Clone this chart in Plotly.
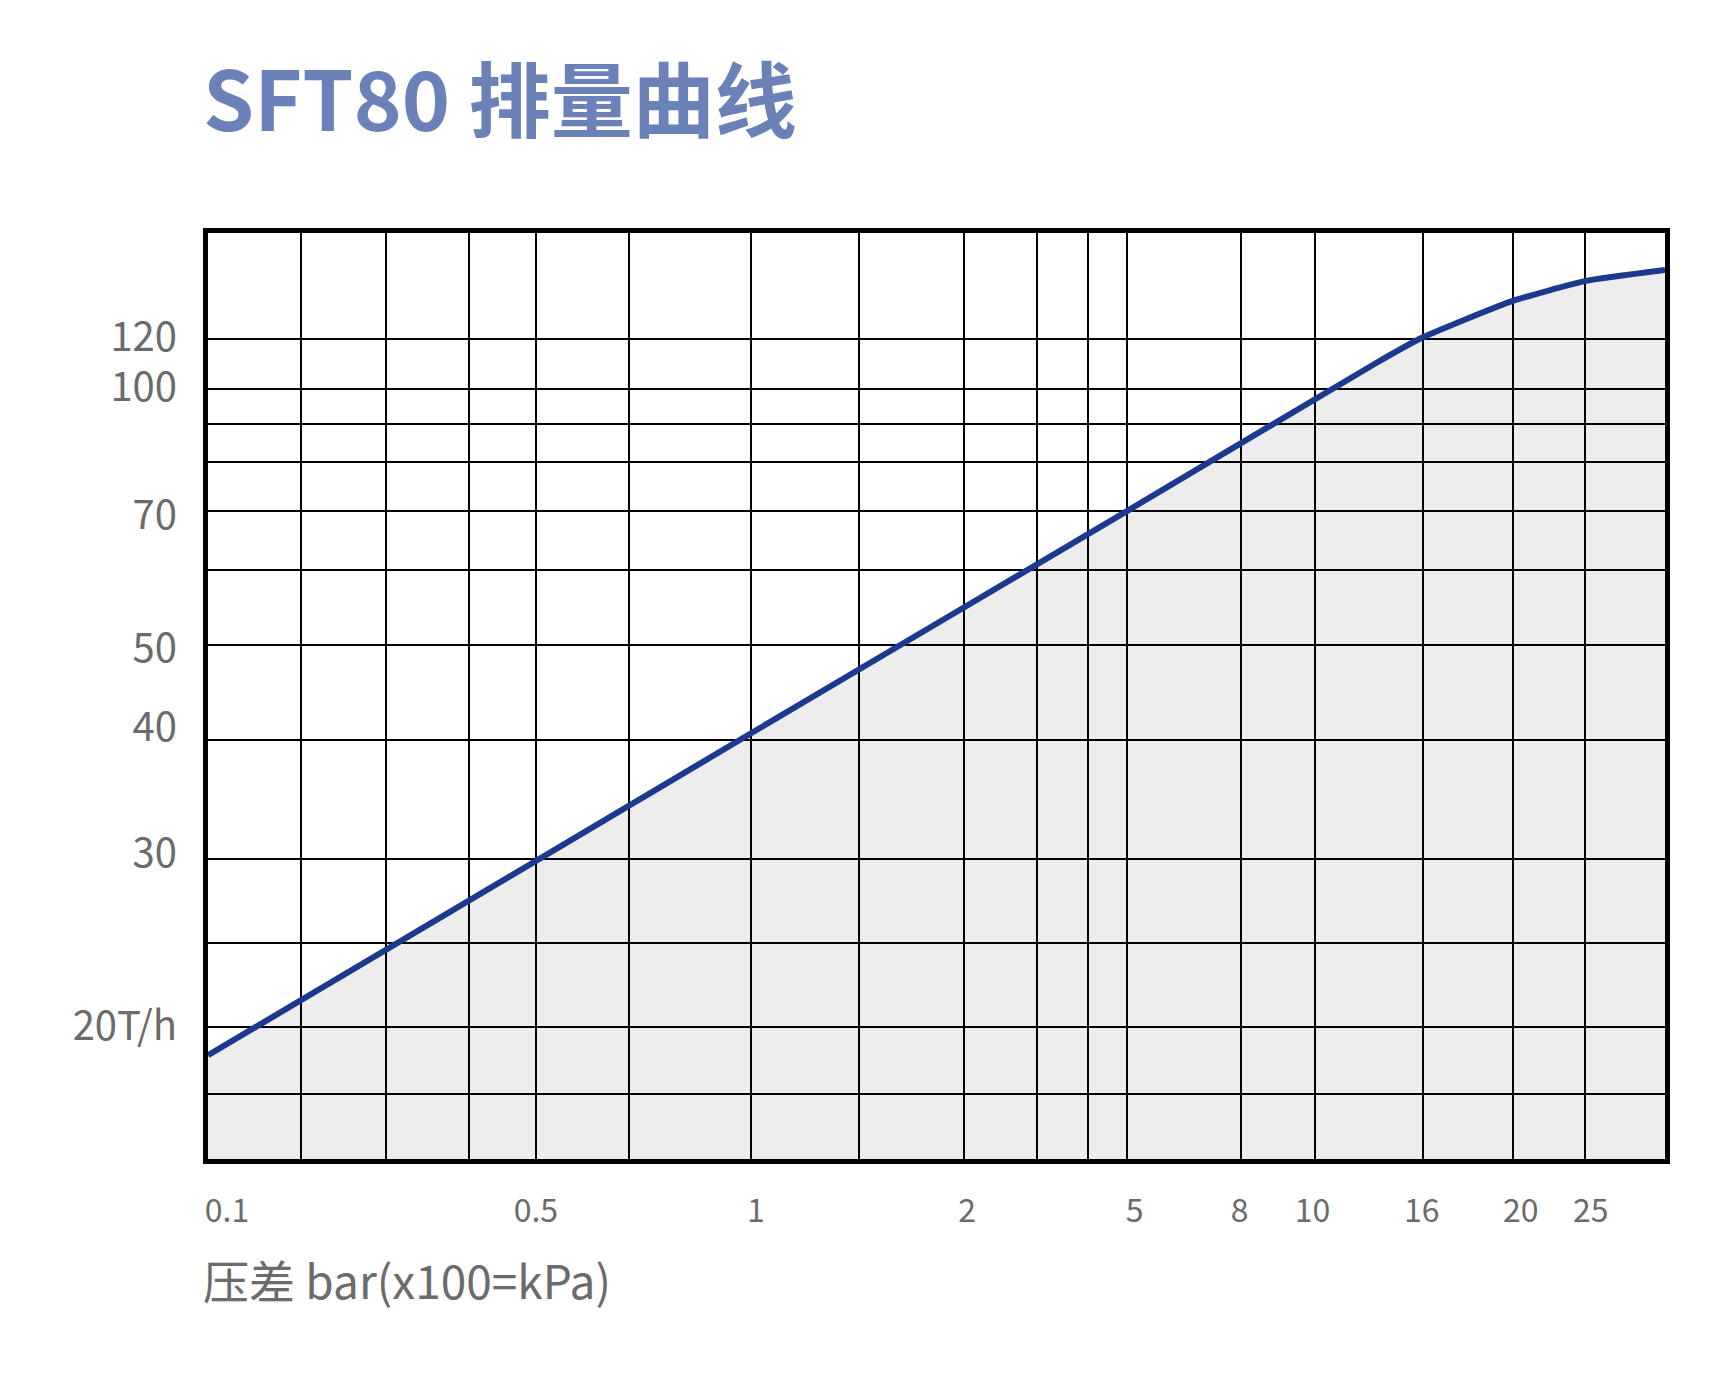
import plotly.graph_objects as go

# the chart uses an irregular (hand drawn) pressure scale, so positions are
# kept on a 0-100 "chart unit" axis and labelled with the printed values
x_grid = [6.4, 12.2, 17.9, 22.5, 28.9, 37.3, 44.7, 51.9, 56.9, 60.4, 63.1, 70.9, 76.0, 83.4, 89.6, 94.5]
y_grid = [7.0, 14.3, 23.3, 32.4, 45.3, 55.5, 63.6, 70.0, 75.3, 79.4, 83.1, 88.6]

x_label_pos = [1.3, 22.5, 37.6, 52.1, 63.6, 70.8, 75.8, 83.3, 90.1, 94.9, 100.4]
x_labels = ['0.1', '0.5', '1', '2', '5', '8', '10', '16', '20', '25', '32']
y_label_pos = [14.4, 33.0, 46.6, 55.2, 69.6, 83.4, 88.8, 100.6]
y_labels = ['20T/h', '30', '40', '50', '70', '100', '120', '160']

curve_x = [0.0, 37.3, 63.1, 80.0, 83.2, 86.5, 89.6, 94.5, 100.0]
curve_y = [11.2, 46.0, 70.0, 85.8, 88.6, 90.8, 92.7, 94.8, 96.0]

fig = go.Figure()
fig.add_trace(go.Scatter(
    x=curve_x, y=curve_y, mode='lines',
    line=dict(color='#1b3a8f', width=6, shape='spline', smoothing=0.5),
    fill='tozeroy', fillcolor='rgba(0,0,0,0.07)',
    hoverinfo='skip', showlegend=False))
# invisible trace to activate the label axes
fig.add_trace(go.Scatter(x=[0], y=[0], xaxis='x2', yaxis='y2',
                         mode='markers', marker=dict(opacity=0),
                         showlegend=False, hoverinfo='skip'))

font = 'Noto Sans CJK SC'
fig.update_layout(
    width=1735, height=1376,
    paper_bgcolor='white', plot_bgcolor='white',
    margin=dict(l=200, r=78, t=225, b=225),
    xaxis=dict(range=[0, 100], tickvals=x_grid, showticklabels=False,
               showgrid=True, gridcolor='black', gridwidth=2, zeroline=False,
               showline=True, linecolor='black', linewidth=5, mirror=True, ticks=''),
    yaxis=dict(range=[0, 100], tickvals=y_grid, showticklabels=False,
               showgrid=True, gridcolor='black', gridwidth=2, zeroline=False,
               showline=True, linecolor='black', linewidth=5, mirror=True, ticks=''),
    xaxis2=dict(range=[0, 100], overlaying='x', side='bottom', showgrid=False,
                zeroline=False, tickvals=x_label_pos, ticktext=x_labels, ticks='',
                ticklabelstandoff=30,
                tickfont=dict(family=font, size=32, color='#6b6b6b')),
    yaxis2=dict(range=[0, 100], overlaying='y', side='left', showgrid=False,
                zeroline=False, tickvals=y_label_pos, ticktext=y_labels, ticks='',
                ticklabelstandoff=30,
                tickfont=dict(family=font, size=40, color='#6b6b6b')),
    annotations=[
        dict(text='<b>SFT80 排量曲线</b>', xref='paper', yref='paper',
             x=-0.005, y=1.148, xanchor='left', yanchor='middle', showarrow=False,
             font=dict(family=font, size=82, color='#6a82b8')),
        dict(text='压差 bar(x100=kPa)', xref='paper', yref='paper',
             x=-0.005, y=-0.13, xanchor='left', yanchor='middle', showarrow=False,
             font=dict(family=font, size=46, color='#6b6b6b')),
    ],
)
fig.write_html('out.html')
